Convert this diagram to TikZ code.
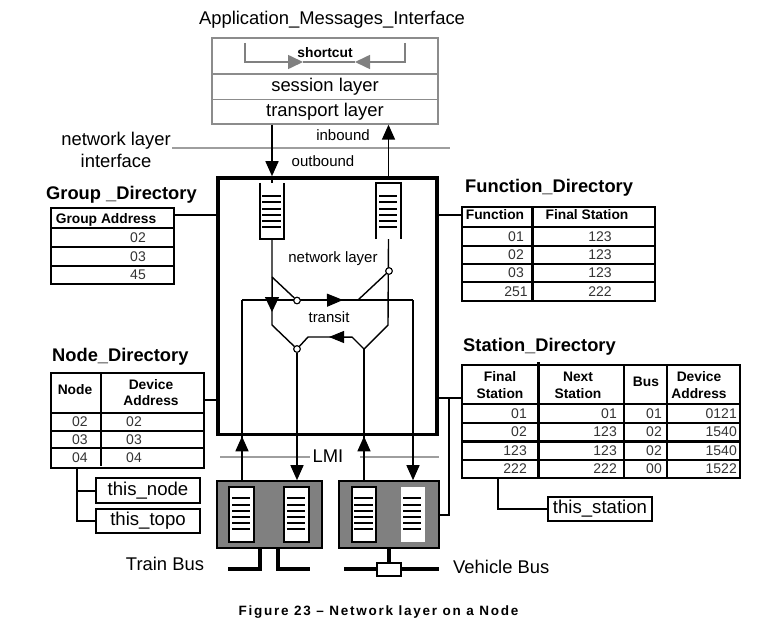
\documentclass[tikz,border=0pt]{standalone}
\usepackage{fontspec}
\setmainfont{Liberation Sans}
\usetikzlibrary{arrows.meta}
\newcommand{\fs}[1]{\fontsize{#1}{#1}\selectfont}
\tikzset{
  wire/.style={line width=1.4pt},
  rule/.style={line width=2pt},
  greyrule/.style={line width=2.2pt,draw=black!38},
  flow/.style={line width=1.6pt,-{Triangle[length=15pt,width=13pt]}},
  greyflow/.style={line width=1.6pt,draw=black!50,-{Triangle[length=15pt,width=14pt]}},
  layerbox/.style={draw=black!45,line width=1.3pt,inner sep=0pt,font=\fs{18.4}},
  tablebox/.style={draw,line width=2pt,inner sep=0pt},
  namebox/.style={draw,line width=2pt,inner sep=0pt,font=\fs{18.6}},
  devbox/.style={draw,fill=black!50,line width=1.6pt,inner sep=0pt},
  slotbox/.style={draw,fill=white,line width=1.6pt,inner sep=0pt},
  switch/.style={circle,draw,fill=white,line width=1pt,inner sep=0pt,minimum size=6.5pt},
  txt/.style={inner sep=0pt,font=\fs{18.4}},
  small/.style={inner sep=0pt,font=\fs{15}},
  title/.style={inner sep=0pt,anchor=west,font=\fs{18.3}\bfseries},
  head/.style={inner sep=0pt,align=center,font=\fs{13.8}\bfseries},
  value/.style={inner sep=0pt,font=\fs{14},text=black!80}
}
\begin{document}
\begin{tikzpicture}[x=1pt,y=-1pt]
        \useasboundingbox (0,0) rectangle (778,626);
        \fill[white] (0,0) rectangle (778,626);

        %%%%%%%%%% Titles %%%%%%%%%%
        \node (AppTitle) at (332,20) [txt] {Application\_Messages\_Interface};
        \node (IfaceTitle) at (116,150) [txt,align=center] {network layer\\[4pt]interface};
        \node (GroupTitle) at (46,194.5) [title] {Group \_Directory};
        \node (FuncTitle) at (465,187.5) [title] {Function\_Directory};
        \node (NodeTitle) at (52,356.5) [title] {Node\_Directory};
        \node (StationTitle) at (463,346.5) [title] {Station\_Directory};
        \node (TrainLabel) at (165,564) [txt] {Train Bus};
        \node (VehicleLabel) at (453,567) [txt,anchor=west] {Vehicle Bus};
        \node (Caption) at (378.5,612.5) [inner sep=0pt,font=\fs{13.5}\bfseries\addfontfeature{LetterSpace=13}] {Figure 23 -- Network layer on a Node};

        %%%%%%%%%% Upper layers %%%%%%%%%%
        \node (ShortcutBox) at (325,56) [layerbox,minimum width=226pt,minimum height=36pt] {};
        \node (SessionBox) at (325,86.75) [layerbox,minimum width=226pt,minimum height=25.5pt] {session layer};
        \node (TransportBox) at (325,111.75) [layerbox,minimum width=226pt,minimum height=24.5pt] {transport layer};
        \node (ShortcutLabel) at (325,53) [inner sep=0pt,font=\fs{13.8}\bfseries] {shortcut};
        \coordinate (ShortL) at (245,43);
        \coordinate (ShortR) at (405,43);
        \coordinate (ShortLTip) at (303,62);
        \coordinate (ShortRTip) at (355,62);
        \draw[greyflow] (ShortL) |- (ShortLTip);
        \draw[greyflow] (ShortR) |- (ShortRTip);
        \draw[line width=1.4pt,draw=black!50] (ShortLTip) -- (ShortRTip);

        %%%%%%%%%% Interface lines %%%%%%%%%%
        \coordinate (IfaceL) at (172,148);
        \coordinate (IfaceR) at (450,148);
        \draw[greyrule] (IfaceL) -- (IfaceR);
        \node (Inbound) at (343,135.5) [small] {inbound};
        \node (Outbound) at (323,161) [small] {outbound};
        \coordinate (LmiA) at (220,457);
        \coordinate (LmiB) at (310,457);
        \coordinate (LmiC) at (360,457);
        \coordinate (LmiD) at (439,457);
        \draw[greyrule] (LmiA) -- (LmiB);
        \draw[greyrule] (LmiC) -- (LmiD);
        \node (Lmi) at (328,456) [txt] {LMI};

        %%%%%%%%%% Network layer %%%%%%%%%%
        \node (MainBox) at (327.5,306.25) [draw,line width=3.6pt,inner sep=0pt,minimum width=219pt,minimum height=256.5pt] {};
        \node (QueueOut) at (272,211) [inner sep=0pt,minimum width=24pt,minimum height=56pt] {};
        \node (QueueIn) at (388.5,211) [inner sep=0pt,minimum width=25pt,minimum height=56pt] {};
        \draw[line width=1.8pt] (QueueOut.north west) |- (QueueOut.south east) -- (QueueOut.north east);
        \draw[line width=1.8pt] (QueueIn.south west) |- (QueueIn.north east) -- (QueueIn.south east);
        \foreach \y in {196,202,209,215,221,227} {
            \draw[rule] (262,\y) -- (281,\y);
            \draw[rule] (379,\y) -- (397,\y);
        }
        \node (NetLabel) at (333,258.5) [small] {network layer};
        \node (TransitLabel) at (329,317) [small] {transit};

        \coordinate (LeftBranch) at (272,277);
        \coordinate (LeftBend) at (272,325);
        \coordinate (RightBend) at (388,325);
        \coordinate (Merge) at (364,349);
        \coordinate (TransitL) at (242,300);
        \coordinate (TransitR) at (413,300);
        \coordinate (BackA) at (352,337);
        \coordinate (BackB) at (329,337);
        \coordinate (BackC) at (308,337);
        \coordinate (TransitTip) at (343,300);
        \coordinate (RightJoin) at (358,300);
        \coordinate (DownTip) at (272,312);
        \node (UpperSw) at (297,300.5) [switch] {};
        \node (RightSw) at (389,271) [switch] {};
        \node (LowerSw) at (297,349) [switch] {};

        %%%%%%%%%% Devices %%%%%%%%%%
        \node (TrainDev) at (269.5,514.5) [devbox,minimum width=105pt,minimum height=67pt] {};
        \node (VehicleDev) at (389,514.5) [devbox,minimum width=100pt,minimum height=67pt] {};
        \node (TrainSlotA) at (241.5,514.5) [slotbox,minimum width=25pt,minimum height=55pt] {};
        \node (TrainSlotB) at (296.5,514.5) [slotbox,minimum width=25pt,minimum height=55pt] {};
        \node (VehicleSlotA) at (364,514.5) [slotbox,minimum width=24pt,minimum height=55pt] {};
        \node (VehicleSlotB) at (413,514.5) [slotbox,draw=none,minimum width=24pt,minimum height=55pt] {};
        \foreach \y in {498,505,511,517,523,529} {
            \draw[rule] (232,\y) -- (250,\y);
            \draw[rule] (287,\y) -- (305,\y);
            \draw[rule] (354,\y) -- (373,\y);
            \draw[line width=1.2pt] (403,\y) -- (421,\y);
        }

        %%%%%%%%%% Buses %%%%%%%%%%
        \coordinate (TrainStemA) at (260,569);
        \coordinate (TrainStemB) at (278,569);
        \coordinate (TrainEndA) at (228,569);
        \coordinate (TrainEndB) at (310,569);
        \coordinate (VehicleEndA) at (344,569);
        \coordinate (VehicleEndB) at (439,569);
        \draw[line width=3.4pt] (TrainStemA |- TrainDev.south) -- (TrainStemA) -- (TrainEndA);
        \draw[line width=3.4pt] (TrainStemB |- TrainDev.south) -- (TrainStemB) -- (TrainEndB);
        \draw[line width=3.4pt] (VehicleEndA) -- (VehicleEndB);
        \draw[line width=3.4pt] (VehicleDev.south) -- (VehicleEndA -| VehicleDev.south);
        \node (VehicleTap) at (389,569.5) [draw,fill=white,line width=1.6pt,inner sep=0pt,minimum width=24pt,minimum height=13pt] {};

        %%%%%%%%%% Arrows %%%%%%%%%%
        \draw[flow] (QueueOut.north |- TransportBox.south) -- (QueueOut.north |- MainBox.north);
        \draw[line width=1.6pt] (QueueOut.north |- MainBox.north) -- (QueueOut.north);
        \draw[flow] (QueueIn.north |- MainBox.north) -- (QueueIn.north |- TransportBox.south);
        \draw[wire] (QueueOut.south) -- (LeftBend) -- (LowerSw);
        \draw[wire] (LeftBranch) -- (UpperSw);
        \draw[wire] (QueueIn.south) -- (RightBend) -- (Merge);
        \draw[wire] (RightSw) -- (RightJoin);
        \draw[rule] (TransitL) -- (TransitR);
        \draw[wire] (LowerSw) -- (BackC) -- (BackA) -- (Merge);
        \draw[-{Triangle[length=15pt,width=14pt]},line width=1pt] (LeftBranch) -- (DownTip);
        \draw[-{Triangle[length=16pt,width=13pt]},line width=1pt] (UpperSw) -- (TransitTip);
        \draw[-{Triangle[length=15pt,width=12pt]},line width=1pt] (BackA) -- (BackB);
        \node at (UpperSw) [switch] {};
        \node at (RightSw) [switch] {};
        \node at (LowerSw) [switch] {};
        \draw[wire] (TransitL) -- (TransitL |- TrainDev.north);
        \draw[flow] (TransitL |- TrainDev.north) -- (TransitL |- MainBox.south);
        \draw[wire] (Merge) -- (Merge |- VehicleDev.north);
        \draw[flow,line width=1.4pt] (Merge |- VehicleDev.north) -- (Merge |- MainBox.south);
        \draw[flow,line width=1.4pt] (LowerSw) -- (LowerSw |- TrainDev.north);
        \draw[flow,line width=1.4pt] (TransitR) -- (TransitR |- VehicleDev.north);

        %%%%%%%%%% Group directory %%%%%%%%%%
        \node (GroupDir) at (112.5,246) [tablebox,minimum width=123pt,minimum height=76pt] {};
        \foreach \y in {228,247,266} {
            \draw[rule] (51,\y) -- (174,\y);
        }
        \node (GroupHead) at (106,219.5) [head] {Group Address};
        \node (GroupA) at (138,238) [value] {02};
        \node (GroupB) at (138,256.5) [value] {03};
        \node (GroupC) at (138,275) [value] {45};

        %%%%%%%%%% Function directory %%%%%%%%%%
        \node (FuncDir) at (558.5,254) [tablebox,minimum width=193pt,minimum height=94pt] {};
        \foreach \y in {227,246,264,282} {
            \draw[rule] (462,\y) -- (655,\y);
        }
        \draw[line width=3pt] (532,207) -- (532,301);
        \node (FuncHeadA) at (495,214.5) [head] {Function};
        \node (FuncHeadB) at (587,214.5) [head] {Final Station};
        \foreach \y/\f/\s in {236.5/01/123,255/02/123,273/03/123,291.5/251/222} {
            \node at (516,\y) [value] {\f};
            \node at (600,\y) [value] {\s};
        }

        %%%%%%%%%% Node directory %%%%%%%%%%
        \node (NodeDir) at (127.5,420.5) [tablebox,minimum width=153pt,minimum height=95pt] {};
        \foreach \y in {413,431,448} {
            \draw[rule] (51,\y) -- (204,\y);
        }
        \draw[rule] (101,373) -- (101,466);
        \node (NodeHeadA) at (75,390) [head] {Node};
        \node (NodeHeadB) at (151,392.5) [head] {Device\\[3pt]Address};
        \foreach \y/\f in {421.5/02,439.5/03,457.5/04} {
            \node at (80,\y) [value] {\f};
            \node at (134,\y) [value] {\f};
        }
        \node (ThisNode) at (148,490.5) [namebox,minimum width=104pt,minimum height=25pt] {this\_node};
        \node (ThisTopo) at (148,521) [namebox,minimum width=104pt,minimum height=24pt] {this\_topo};

        %%%%%%%%%% Station directory %%%%%%%%%%
        \node (StationDir) at (601,421.5) [tablebox,minimum width=278pt,minimum height=113pt] {};
        \foreach \y in {404,423,460} {
            \draw[rule] (462,\y) -- (740,\y);
        }
        \draw[line width=3pt] (462,441) -- (740,441);
        \draw[line width=3pt] (538,362) -- (538,478);
        \foreach \x in {624,667} {
            \draw[rule] (\x,365) -- (\x,478);
        }
        \node (StationHeadA) at (500,385) [head] {Final\\[3pt]Station};
        \node (StationHeadB) at (578,385) [head] {Next\\[3pt]Station};
        \node (StationHeadC) at (646,382) [head] {Bus};
        \node (StationHeadD) at (699,385) [head] {Device\\[3pt]Address};
        \foreach \y/\a/\b/\c/\d in {413.5/01/01/01/0121,432/02/123/02/1540,450.5/123/123/02/1540,469/222/222/00/1522} {
            \node at (527,\y) [value,anchor=east] {\a};
            \node at (617,\y) [value,anchor=east] {\b};
            \node at (662,\y) [value,anchor=east] {\c};
            \node at (737,\y) [value,anchor=east] {\d};
        }
        \node (ThisStation) at (600,509) [namebox,minimum width=104pt,minimum height=24pt] {this\_station};

        %%%%%%%%%% Directory links %%%%%%%%%%
        \coordinate (GroupLink) at (174,215);
        \coordinate (FuncLink) at (462,215);
        \coordinate (NodeLink) at (204,400);
        \coordinate (StationLink) at (462,398);
        \coordinate (StationDrop) at (449,398);
        \coordinate (NodeDrop) at (77,468);
        \coordinate (StationTail) at (498,478);
        \draw[rule] (GroupLink) -- (GroupLink -| MainBox.west);
        \draw[rule] (FuncLink) -- (FuncLink -| MainBox.east);
        \draw[rule] (NodeLink) -- (NodeLink -| MainBox.west);
        \draw[rule] (StationLink) -- (StationLink -| MainBox.east);
        \draw[rule] (StationDrop) |- (VehicleDev.east);
        \draw[rule] (NodeDrop) |- (ThisNode.west);
        \draw[rule] (NodeDrop) |- (ThisTopo.west);
        \draw[rule] (StationTail) |- (ThisStation.west);
    \end{tikzpicture}
\end{document}
